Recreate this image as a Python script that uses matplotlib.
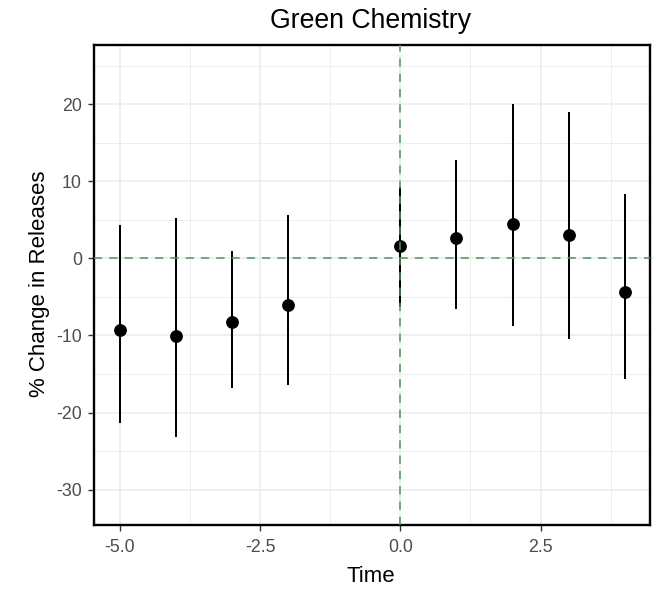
import matplotlib
matplotlib.use("Agg")
import matplotlib.pyplot as plt
from matplotlib.ticker import MultipleLocator

plt.rcParams['font.family'] = ['Liberation Sans', 'DejaVu Sans']

# Event-study estimates with confidence intervals
time = [-5, -4, -3, -2, 0, 1, 2, 3, 4]
estimate = [-9.3, -10.1, -8.3, -6.1, 1.6, 2.6, 4.5, 3.1, -4.4]
ci_low = [-21.3, -23.2, -16.8, -16.4, -6.3, -6.6, -8.8, -10.5, -15.6]
ci_high = [4.4, 5.3, 0.9, 5.6, 9.3, 12.8, 20.0, 19.0, 8.4]

x_ticks = [-5.0, -2.5, 0.0, 2.5]
y_ticks = [-30, -20, -10, 0, 10, 20]

W, H = 661, 592
fig = plt.figure(figsize=(W / 100, H / 100), dpi=100)
ax = fig.add_axes([94 / W, 1 - 525 / H, (650 - 94) / W, (525 - 45) / H])

grid_col = "#EBEBEB"
ax.set_axisbelow(True)
ax.xaxis.set_minor_locator(MultipleLocator(1.25))
ax.yaxis.set_minor_locator(MultipleLocator(5))
ax.grid(which="major", color=grid_col, linewidth=1.1)
ax.grid(which="minor", color=grid_col, linewidth=0.6)

ax.vlines(time, ci_low, ci_high, color="black", linewidth=1.45, zorder=3)
ax.plot(time, estimate, "o", color="black", markersize=8.2, zorder=4)

ref_col = "#55905A"
ax.axhline(0, color=ref_col, linewidth=1.1, linestyle=(0, (5.4, 4.6)), zorder=5)
ax.axvline(0, color=ref_col, linewidth=1.1, linestyle=(0, (5.4, 4.6)), zorder=5)

ax.set_xlim(-5.46, 4.45)
ax.set_ylim(-34.6, 27.7)
ax.set_xticks(x_ticks)
ax.set_xticklabels([f"{v:.1f}" for v in x_ticks])
ax.set_yticks(y_ticks)
ax.set_yticklabels([str(v) for v in y_ticks])

ax.tick_params(which="major", length=4.2, width=1.0, color="#333333",
               labelcolor="#4D4D4D", labelsize=12.8)
ax.tick_params(axis="x", which="major", pad=6)
ax.tick_params(axis="y", which="major", pad=4.5)
ax.tick_params(which="minor", length=0)

for s in ax.spines.values():
    s.set_linewidth(1.7)
    s.set_color("black")

fig.text(371 / W, 1 - 582 / H, "Time", fontsize=16,
         ha="center", va="baseline")
fig.text(45 / W, 1 - 284 / H, "% Change in Releases", fontsize=16,
         rotation=90, rotation_mode="anchor", ha="center", va="baseline")
fig.text(371 / W, 1 - 28 / H, "Green Chemistry", fontsize=19.2,
         ha="center", va="baseline")

fig.savefig("out.png", dpi=100, facecolor="white")
